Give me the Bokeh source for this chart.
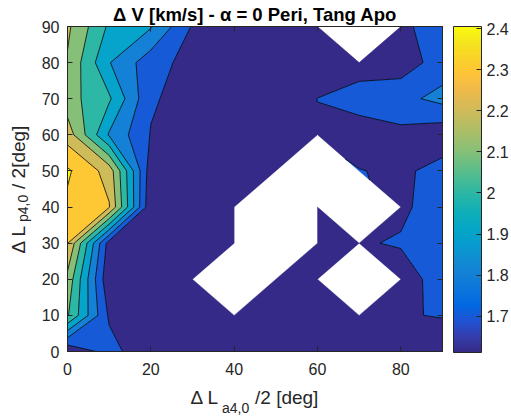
import numpy as np
import contourpy
from bokeh.plotting import figure
from bokeh.models import (ColumnDataSource, LinearColorMapper, ColorBar, FixedTicker,
                          LinearAxis, Range1d, CustomJSTickFormatter)
from bokeh.embed import file_html
from bokeh.resources import INLINE

nan = float("nan")

# ---- data (grid 0:10:90 in both directions) ----
x_vals = [0, 10, 20, 30, 40, 50, 60, 70, 80, 90]
y_vals = [0, 10, 20, 30, 40, 50, 60, 70, 80, 90]
#          x=0    10     20     30     40    50    60     70     80     90
z_y0  = [1.611, 1.740, 1.615, 1.620, 1.620, 1.630, 1.640, 1.650, 1.660, 1.640]
z_y10 = [2.110, 1.685, 1.620, 1.620, 1.620, 1.630, 1.640, 1.650, 1.694, 1.705]
z_y20 = [2.170, 1.617, 1.620, 1.620, nan,   1.630, 1.640, nan,   1.660, 1.737]
z_y30 = [2.305, 1.655, 1.630, 1.620, 1.620, nan,   1.650, 1.693, 1.707, 1.740]
z_y40 = [2.380, 2.307, 1.615, 1.620, 1.620, nan,   1.640, nan,   1.685, 1.740]
z_y50 = [2.415, 2.260, 1.640, 1.630, 1.620, 1.630, nan,   1.705, 1.678, 1.740]
z_y60 = [2.255, 1.889, 1.695, 1.640, 1.630, 1.640, 1.690, 1.630, 1.672, 1.633]
z_y70 = [2.141, 2.015, 1.712, 1.657, 1.630, 1.640, 1.701, 1.760, 1.772, 1.830]
z_y80 = [2.190, 1.905, 1.742, 1.663, 1.630, 1.630, 1.650, 1.635, 1.643, 1.750]
z_y90 = [2.219, 1.983, 1.909, 1.691, 1.640, 1.630, 1.630, nan,   1.670, 1.770]
z_rows = [z_y0, z_y10, z_y20, z_y30, z_y40, z_y50, z_y60, z_y70, z_y80, z_y90]

levels = [1.7, 1.8, 1.9, 2.0, 2.1, 2.2, 2.3, 2.4]
cbar_ticks = [1.7, 1.8, 1.9, 2.0, 2.1, 2.2, 2.3, 2.4]
x_ticks = [0, 20, 40, 60, 80]
y_ticks = [0, 10, 20, 30, 40, 50, 60, 70, 80, 90]
c_min, c_max = 1.612, 2.405

title_text = "\u0394 V [km/s] - \u03b1 = 0 Peri, Tang Apo"
NB = "\u00a0"
xlabel_main = "\u0394 L" + NB * 7 + "/2 [deg]"
xlabel_sub = "a4,0"
ylabel_main = "\u0394 L" + NB * 7 + "/ 2[deg]"
ylabel_sub = "p4,0"

# ---- parula colormap ----
parula_nodes = [
    (0.2081, 0.1663, 0.5292), (0.2081, 0.2386, 0.6771), (0.1253, 0.3242, 0.8303),
    (0.0060, 0.4086, 0.8828), (0.0498, 0.4586, 0.8641), (0.0779, 0.5040, 0.8384),
    (0.0641, 0.5570, 0.8240), (0.0265, 0.6137, 0.8135), (0.0228, 0.6535, 0.7768),
    (0.0590, 0.6838, 0.7254), (0.1453, 0.7098, 0.6646), (0.2586, 0.7317, 0.5954),
    (0.3953, 0.7459, 0.5244), (0.5300, 0.7491, 0.4661), (0.6473, 0.7456, 0.4188),
    (0.7525, 0.7384, 0.3768), (0.8507, 0.7299, 0.3360), (0.9450, 0.7261, 0.2886),
    (0.9990, 0.7653, 0.2164), (0.9789, 0.8271, 0.1633), (0.9588, 0.8949, 0.1132),
    (0.9763, 0.9831, 0.0538)]
node_t = np.linspace(0, 1, len(parula_nodes))
node_rgb = np.array(parula_nodes)


def parula(t):
    t = float(np.clip(t, 0, 1))
    r, g, b = (np.interp(t, node_t, node_rgb[:, k]) for k in range(3))
    return "#%02x%02x%02x" % (int(round(r * 255)), int(round(g * 255)), int(round(b * 255)))


palette = [parula(t) for t in np.linspace(0, 1, 256)]

# ---- contours ----
X, Y = np.meshgrid(np.array(x_vals, float), np.array(y_vals, float))
Z = np.ma.masked_invalid(np.array(z_rows, float))
gen = contourpy.contour_generator(X, Y, Z, name="serial", corner_mask=True,
                                  fill_type="OuterOffset", line_type="Separate")

bounds = [0.0] + levels + [10.0]
fx, fy, fc = [], [], []
for i in range(len(bounds) - 1):
    lo, hi = bounds[i], bounds[i + 1]
    col = parula((max(lo, c_min) - c_min) / (c_max - c_min))
    pts_list, off_list = gen.filled(lo, hi)
    for pts, offs in zip(pts_list, off_list):
        rings = [pts[offs[k]:offs[k + 1]] for k in range(len(offs) - 1)]
        fx.append([[r[:, 0].tolist() for r in rings]])
        fy.append([[r[:, 1].tolist() for r in rings]])
        fc.append(col)

lx, ly = [], []
for lev in levels:
    for seg in gen.lines(lev):
        lx.append(seg[:, 0].tolist())
        ly.append(seg[:, 1].tolist())

# ---- figure ----
FONT = "Liberation Sans"
TXT = "#262626"
p = figure(width=511, height=418, output_backend="svg", toolbar_location=None,
           x_range=Range1d(0, 90), y_range=Range1d(0, 90),
           frame_width=375, frame_height=325,
           min_border_left=67, min_border_top=25, min_border_right=69, min_border_bottom=68,
           x_axis_location="below", y_axis_location="left")
p.background_fill_color = "white"
p.border_fill_color = "white"
p.outline_line_color = TXT
p.outline_line_width = 1
p.grid.visible = False

p.title.text = title_text
p.title.text_font = FONT
p.title.text_font_size = "18.5px"
p.title.text_font_style = "bold"
p.title.text_color = "black"
p.title.align = "center"
p.title.standoff = 3

p.multi_polygons(xs="xs", ys="ys", fill_color="c", line_color="c", line_width=0.4,
                 source=ColumnDataSource(dict(xs=fx, ys=fy, c=fc)))
p.multi_line(xs="xs", ys="ys", line_color="black", line_width=0.8,
             source=ColumnDataSource(dict(xs=lx, ys=ly)))


def style_axis(ax):
    ax.major_tick_in = 5
    ax.major_tick_out = 0
    ax.minor_tick_line_color = None
    ax.axis_line_color = TXT
    ax.major_tick_line_color = TXT
    ax.major_label_text_font = FONT
    ax.major_label_text_color = TXT
    ax.major_label_text_font_size = "16px"
    ax.axis_label_text_font = FONT
    ax.axis_label_text_font_size = "19px"
    ax.axis_label_text_font_style = "normal"
    ax.axis_label_text_color = TXT


p.xaxis.ticker = FixedTicker(ticks=x_ticks)
p.yaxis.ticker = FixedTicker(ticks=y_ticks)
for ax in p.xaxis:
    style_axis(ax)
    ax.major_label_standoff = 11
    ax.axis_label = xlabel_main
    ax.axis_label_standoff = 9
for ax in p.yaxis:
    style_axis(ax)
    ax.major_label_standoff = 8
    ax.axis_label = ylabel_main
    ax.axis_label_standoff = 10

blank = CustomJSTickFormatter(code="return ''")
top_ax = LinearAxis(ticker=FixedTicker(ticks=x_ticks), formatter=blank)
style_axis(top_ax)
top_ax.major_label_standoff = 0
p.add_layout(top_ax, "above")
right_ax = LinearAxis(ticker=FixedTicker(ticks=y_ticks), formatter=blank)
style_axis(right_ax)
right_ax.major_label_standoff = 0
p.add_layout(right_ax, "right")


# subscripts: label-only axes stacked outside the main axes, pulled back in
def sub_axis(text, standoff):
    ax = LinearAxis(ticker=FixedTicker(ticks=[]), axis_label=text + NB * 10)
    ax.axis_line_color = None
    ax.major_tick_line_color = None
    ax.minor_tick_line_color = None
    ax.axis_label_standoff = standoff
    ax.axis_label_text_font = FONT
    ax.axis_label_text_font_size = "14px"
    ax.axis_label_text_font_style = "normal"
    ax.axis_label_text_color = TXT
    return ax


p.add_layout(sub_axis(xlabel_sub, -11), "below")
p.add_layout(sub_axis(ylabel_sub, -26), "left")

mapper = LinearColorMapper(palette=palette, low=c_min, high=c_max)
cb = ColorBar(color_mapper=mapper, ticker=FixedTicker(ticks=cbar_ticks),
              location=(386, -1), width=28, height=326, padding=0, margin=0,
              bar_line_color=TXT, bar_line_width=1,
              major_tick_in=5, major_tick_out=0, major_tick_line_color=TXT,
              minor_tick_line_color=None,
              major_label_text_font=FONT, major_label_text_font_size="16px",
              major_label_text_color=TXT, label_standoff=5,
              major_label_overrides={2: "2"},
              background_fill_alpha=0, border_line_color=None)
p.add_layout(cb, "center")

open("out.html", "w").write(file_html(p, INLINE))
